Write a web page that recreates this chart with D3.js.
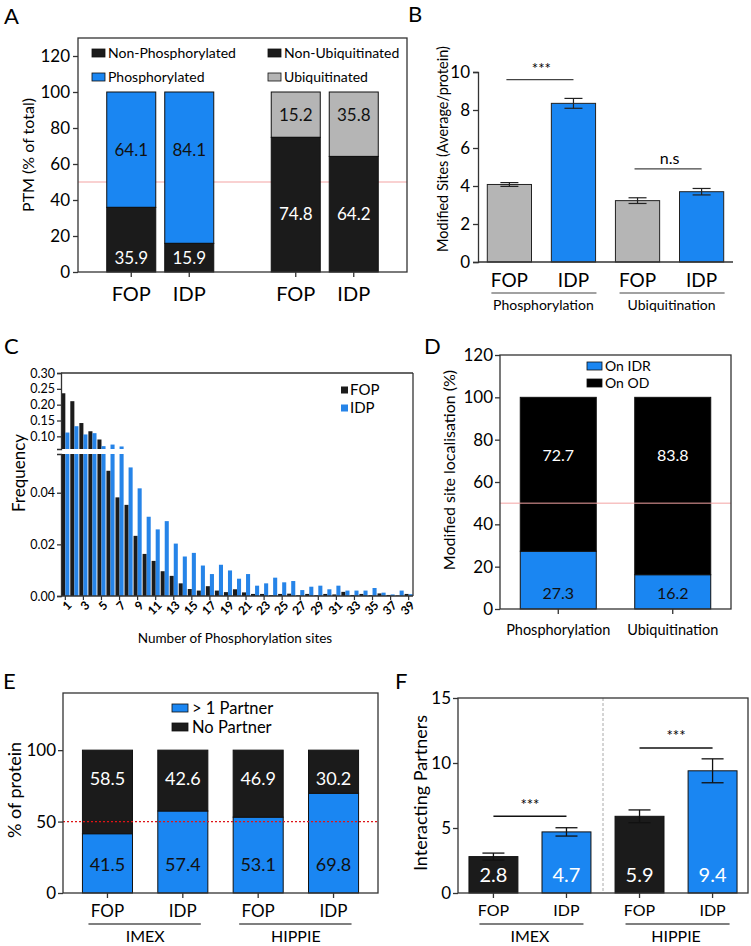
<!DOCTYPE html>
<html><head><meta charset="utf-8">
<script src="https://cdn.jsdelivr.net/npm/d3@7"></script>
<style>body{margin:0;background:#fff}svg{display:block}</style>
</head><body><svg id="c" width="751" height="946"></svg>
<script>
// ---------------- data ----------------
const aBars = ["FOP", "IDP", "FOP", "IDP"];
const aGroups = ["Phosphorylation", "Ubiquitination"];
const aLower = [35.9, 15.9, 74.8, 64.2];
const aUpper = [64.1, 84.1, 15.2, 35.8];
const aTicks = [0, 20, 40, 60, 80, 100, 120];
const aLegend = ["Non-Phosphorylated", "Phosphorylated", "Non-Ubiquitinated", "Ubiquitinated"];

const bBars = ["FOP", "IDP", "FOP", "IDP"];
const bGroups = ["Phosphorylation", "Ubiquitination"];
const bMeans = [4.08, 8.35, 3.23, 3.70];
const bErrors = [0.10, 0.26, 0.15, 0.17];
const bTicks = [0, 2, 4, 6, 8, 10];
const bSigText = ["***", "n.s"];
const bSigLevel = [9.6, 4.9];

const cSites = [1,2,3,4,5,6,7,8,9,10,11,12,13,14,15,16,17,18,19,20,21,22,23,24,25,26,27,28,29,30,31,32,33,34,35,36,37,38,39];
const cLabels = [1,3,5,7,9,11,13,15,17,19,21,23,25,27,29,31,33,35,37,39];
const cFOP = [0.236,0.211,0.142,0.116,0.090,0.0485,0.0382,0.0353,0.0233,0.0163,0.0136,0.0096,0.0078,0.0049,0.0027,0.0021,0.0038,0.0021,0.0015,0.0026,0.0014,0.0008,0.0008,0.0003,0.0008,0.0009,0.0003,0.0008,0.0003,0.0008,0.0006,0.0016,0.0004,0.0008,0.0003,0.0010,0.0004,0.0002,0.0008];
const cIDP = [0.112,0.132,0.106,0.110,0.069,0.074,0.068,0.0498,0.0417,0.0307,0.0258,0.0290,0.0203,0.0153,0.0167,0.0118,0.0085,0.0121,0.0099,0.0067,0.0085,0.0040,0.0049,0.0071,0.0053,0.0058,0.0023,0.0036,0.0040,0.0026,0.0040,0.0021,0.0021,0.0021,0.0031,0.0013,0.0006,0.0021,0.0007];
const cSeries = ["FOP", "IDP"];
const cTicksUpper = [0.10, 0.15, 0.20, 0.25, 0.30];
const cTicksLower = [0.00, 0.02, 0.04];

const dCategories = ["Phosphorylation", "Ubiquitination"];
const dIDR = [27.3, 16.2];
const dOD = [72.7, 83.8];
const dTicks = [0, 20, 40, 60, 80, 100, 120];
const dLegend = ["On IDR", "On OD"];

const eBars = ["FOP", "IDP", "FOP", "IDP"];
const eGroups = ["IMEX", "HIPPIE"];
const ePartner = [41.5, 57.4, 53.1, 69.8];
const eNoPartner = [58.5, 42.6, 46.9, 30.2];
const eTicks = [0, 50, 100];
const eLegend = ["> 1 Partner", "No Partner"];

const fBars = ["FOP", "IDP", "FOP", "IDP"];
const fGroups = ["IMEX", "HIPPIE"];
const fMeans = [2.8, 4.7, 5.9, 9.4];
const fErrors = [0.27, 0.32, 0.49, 0.92];
const fTicks = [0, 5, 10, 15];
const fSigText = ["***", "***"];
const fSigLevel = [5.9, 11.15];

// ---------------- style ----------------
const FF = "Lato, 'Open Sans', Arial, sans-serif";
const BLUE = "#1a86f2", BLACK = "#1b1b1b", GRAY = "#b5b5b5", AX = "#333";
const svg = d3.select("#c").attr("font-family", FF);
svg.append("rect").attr("width", 751).attr("height", 946).attr("fill", "#fff");

function txt(g, x, y, s, o = {}) {
  return g.append("text").attr("x", x).attr("y", y).text(s)
    .attr("font-size", o.fs || 14).attr("fill", o.fill || "#000")
    .attr("text-anchor", o.anchor || "middle")
    .attr("dy", o.dy == null ? "0.35em" : o.dy)
    .attr("font-weight", o.fw || 400)
    .attr("transform", o.rot ? `rotate(${o.rot},${x},${y})` : null);
}
function styleAxis(g, fs) {
  g.attr("font-family", FF).attr("font-size", fs);
  g.select(".domain").attr("stroke", AX).attr("stroke-width", 1.3);
  g.selectAll(".tick line").attr("stroke", AX).attr("stroke-width", 1.3);
  g.selectAll(".tick text").attr("fill", "#000");
}
function box(g, x0, y0, x1, y1) {
  g.append("rect").attr("x", x0).attr("y", y0).attr("width", x1 - x0).attr("height", y1 - y0)
    .attr("fill", "none").attr("stroke", AX).attr("stroke-width", 1.3);
}
function letter(s, x, y) { txt(svg, x, y, s, {fs: 22, anchor: "start", dy: 0, fill: "#000"}); }

// ================= Panel A =================
(function () {
  const g = svg.append("g");
  const L = 78, R = 407, T = 38, B = 272;
  const y = d3.scaleLinear().domain([0, 130]).range([B, T]);
  const xg = d3.scaleBand().domain(aGroups).range([L, R]).paddingInner(0.2).paddingOuter(0.1);
  const xi = d3.scaleBand().domain(["FOP", "IDP"]).range([0, xg.bandwidth()]).paddingInner(0.155).paddingOuter(0.212);
  const xc = i => xg(aGroups[Math.floor(i / 2)]) + xi(aBars[i]);
  const topCol = [BLUE, BLUE, GRAY, GRAY];
  g.append("line").attr("x1", L).attr("x2", R).attr("y1", y(50)).attr("y2", y(50)).attr("stroke", "#f3a3a3").attr("stroke-width", 1);
  aBars.forEach((b, i) => {
    const x = xc(i), w = xi.bandwidth();
    // stacked to 100 % of total
    g.append("rect").attr("x", x).attr("y", y(100)).attr("width", w).attr("height", y(aLower[i]) - y(100))
      .attr("fill", topCol[i]).attr("stroke", "#111").attr("stroke-width", 1);
    g.append("rect").attr("x", x).attr("y", y(aLower[i])).attr("width", w).attr("height", y(0) - y(aLower[i]))
      .attr("fill", BLACK).attr("stroke", "#111").attr("stroke-width", 1);
  });
  aGroups.forEach((gr, k) => {
    const idx = [2 * k, 2 * k + 1];
    const topRow = d3.max(idx, i => (aLower[i] + 100) / 2);
    const botRow = d3.min(idx, i => aLower[i] / 2);
    idx.forEach(i => {
      const cx = xc(i) + xi.bandwidth() / 2;
      txt(g, cx, y(topRow), aUpper[i].toFixed(1), {fs: 17, fill: "#111"});
      txt(g, cx, y(botRow), aLower[i].toFixed(1), {fs: 17, fill: "#fff"});
    });
  });
  box(g, L, T, R, B);
  const ya = g.append("g").attr("transform", `translate(${L},0)`).call(d3.axisLeft(y).tickValues(aTicks).tickSize(5).tickPadding(3));
  ya.select(".domain").remove();
  styleAxis(ya, 17);
  aBars.forEach((b, i) => {
    const cx = xc(i) + xi.bandwidth() / 2;
    g.append("line").attr("x1", cx).attr("x2", cx).attr("y1", B).attr("y2", B + 5).attr("stroke", AX).attr("stroke-width", 1.3);
    txt(g, cx, 294, b, {fs: 20});
  });
  txt(g, 28, 155, "PTM (% of total)", {fs: 16, rot: -90});
  const lg = [[92, 53, BLACK], [92, 77, BLUE], [268, 53, BLACK], [268, 77, GRAY]];
  aLegend.forEach((s, i) => {
    const [lx, ly, c] = lg[i];
    g.append("rect").attr("x", lx).attr("y", ly - 4).attr("width", 13).attr("height", 8).attr("fill", c).attr("stroke", "#111").attr("stroke-width", 0.8);
    txt(g, lx + 16, ly, s, {fs: 14, anchor: "start"});
  });
  letter("A", 4, 24);
})();

// ================= Panel B =================
(function () {
  const g = svg.append("g");
  const L = 478, R = 733, B = 262;
  const y = d3.scaleLinear().domain([0, 10]).range([B, 72]);
  const x = d3.scaleBand().domain(d3.range(bBars.length)).range([L, R]).paddingInner(0.31).paddingOuter(0.145);
  const cols = [GRAY, BLUE, GRAY, BLUE];
  bMeans.forEach((m, i) => {
    g.append("rect").attr("x", x(i)).attr("y", y(m)).attr("width", x.bandwidth()).attr("height", y(0) - y(m))
      .attr("fill", cols[i]).attr("stroke", "#222").attr("stroke-width", 1);
    const cx = x(i) + x.bandwidth() / 2, e = bErrors[i];
    g.append("line").attr("x1", cx).attr("x2", cx).attr("y1", y(m - e)).attr("y2", y(m + e)).attr("stroke", "#222").attr("stroke-width", 1.2);
    [m - e, m + e].forEach(v => g.append("line").attr("x1", cx - 9).attr("x2", cx + 9).attr("y1", y(v)).attr("y2", y(v)).attr("stroke", "#222").attr("stroke-width", 1.2));
    txt(g, cx, 280, bBars[i], {fs: 19});
  });
  bGroups.forEach((gr, k) => {
    const c0 = x(2 * k) + x.bandwidth() / 2, c1 = x(2 * k + 1) + x.bandwidth() / 2;
    g.append("line").attr("x1", c0 - 18).attr("x2", c1 + 23).attr("y1", 293).attr("y2", 293).attr("stroke", "#444").attr("stroke-width", 1.2);
    txt(g, (c0 + c1) / 2 + 2, 305, gr, {fs: 14});
    const sy = y(bSigLevel[k]);
    g.append("line").attr("x1", c0 - 3).attr("x2", c1).attr("y1", sy).attr("y2", sy).attr("stroke", "#444").attr("stroke-width", 1.2);
    txt(g, (c0 + c1) / 2, sy - 11, bSigText[k], {fs: k === 0 ? 15 : 16});
  });
  const ya = g.append("g").attr("transform", `translate(${L},0)`).call(d3.axisLeft(y).tickValues(bTicks).tickSize(5).tickPadding(3));
  styleAxis(ya, 17);
  g.append("line").attr("x1", L).attr("x2", R).attr("y1", B).attr("y2", B).attr("stroke", AX).attr("stroke-width", 1.3);
  txt(g, 443, 149, "Modified Sites (Average/protein)", {fs: 14.5, rot: -90});
  letter("B", 408, 22);
})();

// ================= Panel C =================
(function () {
  const g = svg.append("g");
  const L = 61, R = 413, T = 373, B = 596;
  const yU = d3.scaleLinear().domain([0.06, 0.30]).range([449, T]);
  const yL = d3.scaleLinear().domain([0, 0.055]).range([B, 454]);
  const x = d3.scaleBand().domain(cSites).range([L, R]).paddingInner(0.1).paddingOuter(0.03);
  const xs = d3.scaleBand().domain(cSeries).range([0, x.bandwidth()]);
  const data = {FOP: cFOP, IDP: cIDP};
  const col = {FOP: BLACK, IDP: "#2684e8"};
  cSeries.forEach(s => {
    data[s].forEach((v, i) => {
      const bx = x(cSites[i]) + xs(s), bw = xs.bandwidth();
      if (v <= 0.055) {
        g.append("rect").attr("x", bx).attr("y", yL(v)).attr("width", bw).attr("height", B - yL(v)).attr("fill", col[s]);
      } else {
        g.append("rect").attr("x", bx).attr("y", 454).attr("width", bw).attr("height", B - 454).attr("fill", col[s]);
        if (v > 0.06) g.append("rect").attr("x", bx).attr("y", yU(v)).attr("width", bw).attr("height", 449 - yU(v)).attr("fill", col[s]);
      }
    });
  });
  g.append("line").attr("x1", L).attr("x2", R).attr("y1", T).attr("y2", T).attr("stroke", AX).attr("stroke-width", 1.3);
  g.append("line").attr("x1", R).attr("x2", R).attr("y1", T).attr("y2", B).attr("stroke", AX).attr("stroke-width", 1.3);
  g.append("line").attr("x1", L).attr("x2", R).attr("y1", B).attr("y2", B).attr("stroke", AX).attr("stroke-width", 1.3);
  const fmt = d3.format(".2f");
  const a1 = g.append("g").attr("transform", `translate(${L},0)`).call(d3.axisLeft(yU).tickValues(cTicksUpper).tickFormat(fmt).tickSize(4).tickPadding(2));
  styleAxis(a1, 12.5);
  const a2 = g.append("g").attr("transform", `translate(${L},0)`).call(d3.axisLeft(yL).tickValues(cTicksLower).tickFormat(fmt).tickSize(4).tickPadding(2));
  styleAxis(a2, 12.5);
  cLabels.forEach(v => {
    const cx = x(v) + x.bandwidth() / 2;
    g.append("line").attr("x1", cx).attr("x2", cx).attr("y1", B).attr("y2", B + 4).attr("stroke", AX).attr("stroke-width", 1.2);
    g.append("text").attr("transform", `translate(${cx + 4},${B + 7}) rotate(-45)`).attr("text-anchor", "end").attr("dy", "0.35em")
      .attr("font-size", 12).attr("font-weight", 700).attr("fill", "#000").text(v);
  });
  txt(g, 235, 638, "Number of Phosphorylation sites", {fs: 13.5});
  txt(g, 19, 473, "Frequency", {fs: 17, rot: -90});
  [["FOP", BLACK, 390], ["IDP", "#2684e8", 408]].forEach(([s, c, ly]) => {
    g.append("rect").attr("x", 341).attr("y", ly - 3.5).attr("width", 7).attr("height", 7).attr("fill", c);
    txt(g, 350, ly, s, {fs: 15, anchor: "start"});
  });
  letter("C", 4, 354);
})();

// ================= Panel D =================
(function () {
  const g = svg.append("g");
  const L = 500, R = 731, T = 355, B = 609;
  const y = d3.scaleLinear().domain([0, 120]).range([B, T]);
  const x = d3.scaleBand().domain(dCategories).range([L, R]).paddingInner(0.336).paddingOuter(0.177);
  dCategories.forEach((c, i) => {
    const bx = x(c), bw = x.bandwidth();
    g.append("rect").attr("x", bx).attr("y", y(dIDR[i])).attr("width", bw).attr("height", B - y(dIDR[i])).attr("fill", BLUE).attr("stroke", "#111").attr("stroke-width", 1);
    g.append("rect").attr("x", bx).attr("y", y(dIDR[i] + dOD[i])).attr("width", bw).attr("height", y(dIDR[i]) - y(dIDR[i] + dOD[i])).attr("fill", "#000").attr("stroke", "#111").attr("stroke-width", 1);
    txt(g, bx + bw / 2, y(72.7), dOD[i].toFixed(1), {fs: 16, fill: "#fff"});
    txt(g, bx + bw / 2, y(7.6), dIDR[i].toFixed(1), {fs: 16, fill: "#111"});
    g.append("line").attr("x1", bx + bw / 2).attr("x2", bx + bw / 2).attr("y1", B).attr("y2", B + 5).attr("stroke", AX).attr("stroke-width", 1.3);
    txt(g, bx + bw / 2, 630, c, {fs: 14.5});
  });
  g.append("line").attr("x1", L).attr("x2", R).attr("y1", y(50)).attr("y2", y(50)).attr("stroke", "#f3a3a3").attr("stroke-width", 1);
  box(g, L, T, R, B);
  const ya = g.append("g").attr("transform", `translate(${L},0)`).call(d3.axisLeft(y).tickValues(dTicks).tickSize(5).tickPadding(2));
  ya.select(".domain").remove();
  styleAxis(ya, 17);
  txt(g, 449, 470, "Modified site localisation (%)", {fs: 16, rot: -90});
  [[dLegend[0], BLUE, 366], [dLegend[1], "#000", 383]].forEach(([s, c, ly]) => {
    g.append("rect").attr("x", 587).attr("y", ly - 4).attr("width", 15).attr("height", 8).attr("fill", c).attr("stroke", "#111").attr("stroke-width", 0.8);
    txt(g, 605, ly, s, {fs: 14, anchor: "start"});
  });
  letter("D", 424, 354);
})();

// ================= Panel E =================
(function () {
  const g = svg.append("g");
  const L = 63, R = 378, T = 693, B = 893;
  const y = d3.scaleLinear().domain([0, 140]).range([B, T]);
  const x = d3.scaleBand().domain(d3.range(eBars.length)).range([L, R]).paddingInner(0.336).paddingOuter(0.258);
  eBars.forEach((b, i) => {
    const bx = x(i), bw = x.bandwidth(), cx = bx + bw / 2;
    g.append("rect").attr("x", bx).attr("y", y(ePartner[i])).attr("width", bw).attr("height", B - y(ePartner[i])).attr("fill", BLUE).attr("stroke", "#111").attr("stroke-width", 1);
    g.append("rect").attr("x", bx).attr("y", y(100)).attr("width", bw).attr("height", y(ePartner[i]) - y(100)).attr("fill", BLACK).attr("stroke", "#111").attr("stroke-width", 1);
    txt(g, cx, y(80), eNoPartner[i].toFixed(1), {fs: 18, fill: "#fff"});
    txt(g, cx, y(20), ePartner[i].toFixed(1), {fs: 18, fill: "#111"});
    g.append("line").attr("x1", cx).attr("x2", cx).attr("y1", B).attr("y2", B + 5).attr("stroke", AX).attr("stroke-width", 1.3);
    txt(g, cx, 911, b, {fs: 17});
  });
  eGroups.forEach((gr, k) => {
    const c0 = x(2 * k) + x.bandwidth() / 2, c1 = x(2 * k + 1) + x.bandwidth() / 2;
    g.append("line").attr("x1", c0 - 19).attr("x2", c1 + 18).attr("y1", 924).attr("y2", 924).attr("stroke", "#555").attr("stroke-width", 1.3);
    txt(g, (c0 + c1) / 2, 936, gr, {fs: 16});
  });
  g.append("line").attr("x1", L).attr("x2", R).attr("y1", y(50)).attr("y2", y(50)).attr("stroke", "#e01515").attr("stroke-width", 1.2).attr("stroke-dasharray", "2,2");
  box(g, L, T, R, B);
  const ya = g.append("g").attr("transform", `translate(${L},0)`).call(d3.axisLeft(y).tickValues(eTicks).tickSize(5).tickPadding(2));
  ya.select(".domain").remove();
  styleAxis(ya, 17);
  txt(g, 15, 790, "% of protein", {fs: 18, rot: -90});
  [[eLegend[0], BLUE, 708], [eLegend[1], BLACK, 727]].forEach(([s, c, ly]) => {
    g.append("rect").attr("x", 172).attr("y", ly - 4).attr("width", 16).attr("height", 8).attr("fill", c).attr("stroke", "#111").attr("stroke-width", 0.8);
    txt(g, 192, ly, s, {fs: 16.5, anchor: "start"});
  });
  letter("E", 3, 689);
})();

// ================= Panel F =================
(function () {
  const g = svg.append("g");
  const L = 458, R = 748, T = 698, B = 893;
  const y = d3.scaleLinear().domain([0, 15]).range([B, T]);
  const x = d3.scaleBand().domain(d3.range(fBars.length)).range([L, R]).paddingInner(0.33).paddingOuter(0.15);
  const cols = [BLACK, BLUE, BLACK, BLUE];
  g.append("line").attr("x1", 603).attr("x2", 603).attr("y1", T).attr("y2", B).attr("stroke", "#aaa").attr("stroke-width", 1).attr("stroke-dasharray", "3,2");
  fMeans.forEach((m, i) => {
    const bx = x(i), bw = x.bandwidth(), cx = bx + bw / 2, e = fErrors[i];
    g.append("rect").attr("x", bx).attr("y", y(m)).attr("width", bw).attr("height", B - y(m)).attr("fill", cols[i]).attr("stroke", "#111").attr("stroke-width", 1);
    g.append("line").attr("x1", cx).attr("x2", cx).attr("y1", y(m - e)).attr("y2", y(m + e)).attr("stroke", "#111").attr("stroke-width", 1.3);
    [m - e, m + e].forEach(v => g.append("line").attr("x1", cx - 11).attr("x2", cx + 11).attr("y1", y(v)).attr("y2", y(v)).attr("stroke", "#111").attr("stroke-width", 1.3));
    txt(g, cx, 875, m.toFixed(1), {fs: 20, fill: "#fff"});
    g.append("line").attr("x1", cx).attr("x2", cx).attr("y1", B).attr("y2", B + 5).attr("stroke", AX).attr("stroke-width", 1.3);
    txt(g, cx, 910, fBars[i], {fs: 16});
  });
  fGroups.forEach((gr, k) => {
    const c0 = x(2 * k) + x.bandwidth() / 2, c1 = x(2 * k + 1) + x.bandwidth() / 2;
    g.append("line").attr("x1", c0 - 14).attr("x2", c1 + 17).attr("y1", 924).attr("y2", 924).attr("stroke", "#555").attr("stroke-width", 1.3);
    txt(g, (c0 + c1) / 2, 936, gr, {fs: 16});
    const sy = y(fSigLevel[k]);
    g.append("line").attr("x1", c0).attr("x2", c1).attr("y1", sy).attr("y2", sy).attr("stroke", "#111").attr("stroke-width", 1.4);
    txt(g, (c0 + c1) / 2, sy - 12, fSigText[k], {fs: 15});
  });
  box(g, L, T, R, B);
  const ya = g.append("g").attr("transform", `translate(${L},0)`).call(d3.axisLeft(y).tickValues(fTicks).tickSize(5).tickPadding(2));
  ya.select(".domain").remove();
  styleAxis(ya, 17);
  txt(g, 421, 793, "Interacting Partners", {fs: 18, rot: -90});
  letter("F", 395, 689);
})();
</script></body></html>
